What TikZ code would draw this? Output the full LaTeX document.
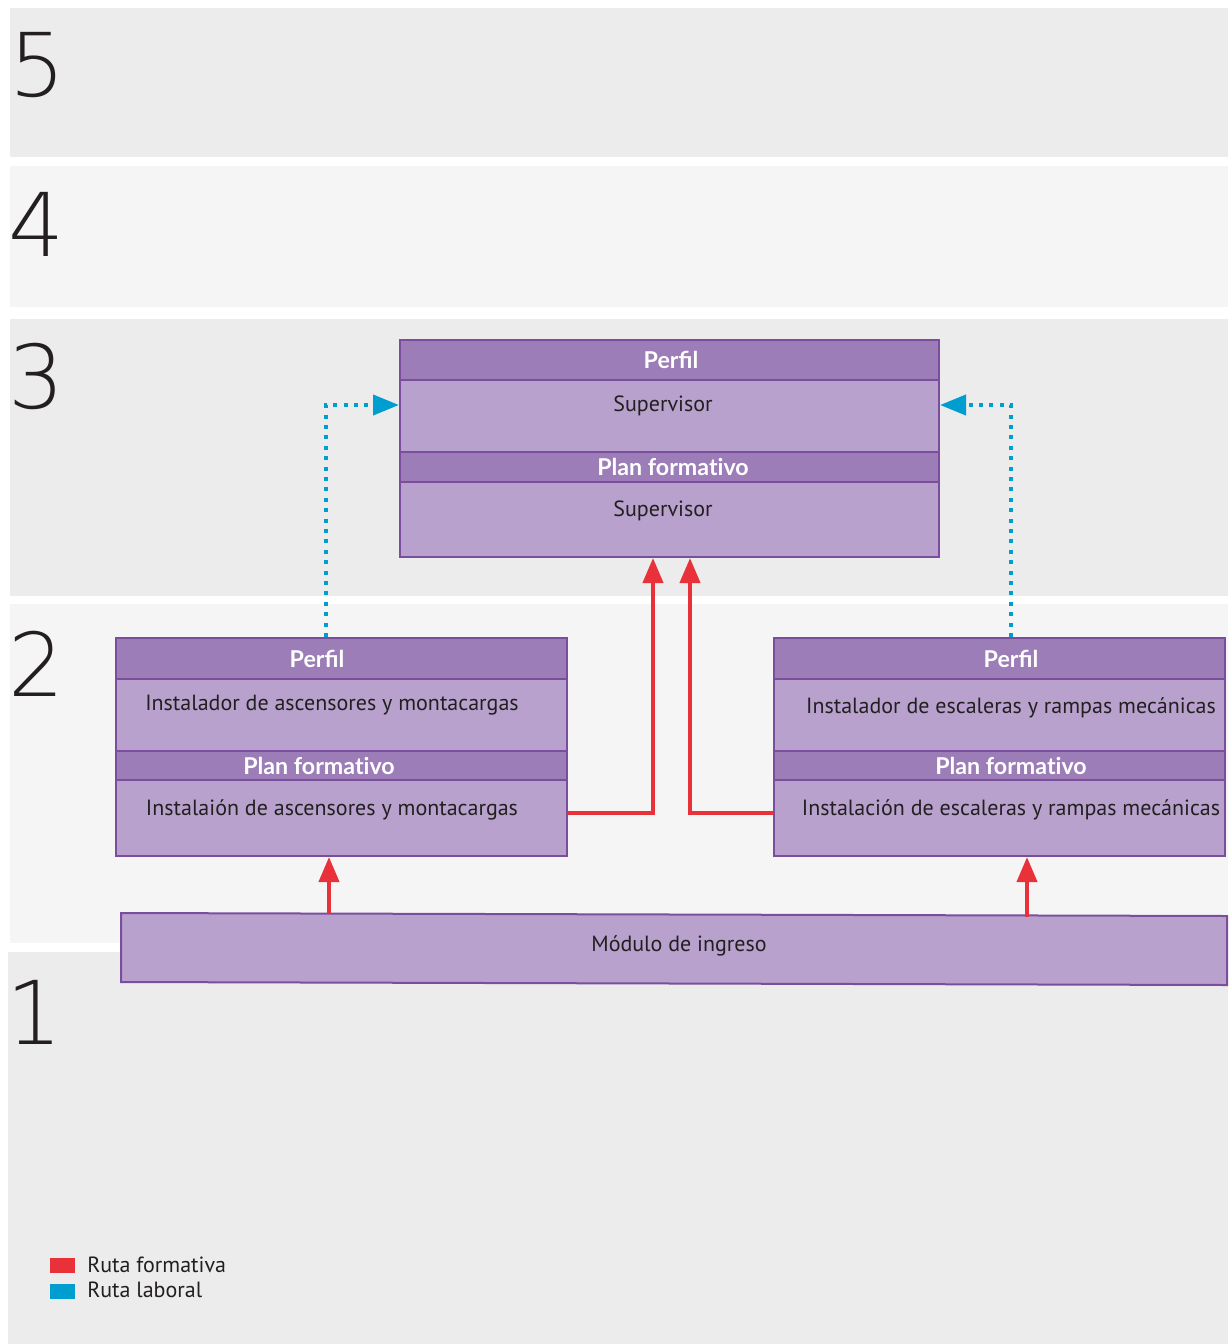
\documentclass[tikz,border=0pt]{standalone}
\usepackage{fontspec}
\usetikzlibrary{arrows.meta}
\newfontfamily\bodyfont{PT Sans}
\newfontfamily\headfont{Lato}[Ligatures=NoCommon]
\newfontfamily\numfont{DejaVu Sans ExtraLight}
\definecolor{banddark}{HTML}{ECECEC}
\definecolor{bandlight}{HTML}{F5F5F5}
\definecolor{headfill}{HTML}{9C7DB8}
\definecolor{bodyfill}{HTML}{B8A2CD}
\definecolor{boxline}{HTML}{7B4E9D}
\definecolor{routered}{HTML}{E9313A}
\definecolor{routeblue}{HTML}{009DD0}
\definecolor{ink}{HTML}{231F20}
\tikzset{
  band/.style={fill=#1, draw=none},
  levelnum/.style={font=\numfont\fontsize{44pt}{44pt}\selectfont, text=ink, inner sep=0pt},
  headbox/.style={draw=boxline, line width=1pt, fill=headfill, anchor=north west, inner sep=0pt},
  headtext/.style={text=white, inner sep=0pt, font=\headfont\bfseries\fontsize{11.6pt}{13pt}\selectfont},
  bodybox/.style={draw=boxline, line width=1pt, fill=bodyfill, anchor=north west, inner sep=0pt},
  bodytext/.style={font=\bodyfont\fontsize{11pt}{13pt}\selectfont, text=ink, inner sep=0pt},
  formativa/.style={draw=routered, line width=2pt, -{Triangle[length=12.5pt, width=10pt]}},
  laboral/.style={draw=routeblue, line width=2pt, dash pattern=on 2pt off 3.2pt,
    -{Triangle[length=13pt, width=10pt]}},
  legendkey/.style={fill=#1, draw=none, anchor=north west, inner sep=0pt,
    minimum width=12.5pt, minimum height=7.5pt}
}
\begin{document}
\begin{tikzpicture}[x=0.5pt, y=-0.5pt]
\useasboundingbox (0,0) rectangle (1228,1344);
\fill[white] (0,0) rectangle (1228,1344);

% level bands
\fill[band=banddark]  (10,8)    rectangle (1228,157);
\fill[band=bandlight] (10,166)  rectangle (1228,307);
\fill[band=banddark]  (10,319)  rectangle (1228,596);
\fill[band=bandlight] (10,604)  rectangle (1228,943);
\fill[band=banddark]  (8,952)   rectangle (1228,1344);

\node[levelnum] (n5) at (37,65)   {5};
\node[levelnum] (n4) at (36,224)  {4};
\node[levelnum] (n3) at (36,376)  {3};
\node[levelnum] (n2) at (36,664)  {2};
\node[levelnum] (n1) at (34,1012) {1};

% level 3: supervisor
\node[headbox, minimum width=269.5pt, minimum height=20pt] (tph) at (399,339) {};
\node[bodybox, minimum width=269.5pt, minimum height=36pt] (tpb) at (399,379) {};
\node[headbox, minimum width=269.5pt, minimum height=15pt] (tfh) at (399,451) {};
\node[bodybox, minimum width=269.5pt, minimum height=37.5pt] (tfb) at (399,481) {};
\node[headtext] (tpht) at (671,360) {Perﬁl};
\node[headtext] (tfht) at (673,467) {Plan formativo};
\node[bodytext] (tpt) at (663,406) {Supervisor};
\node[bodytext] (tft) at (663,511) {Supervisor};

% level 2: left column
\node[headbox, minimum width=225.5pt, minimum height=20.5pt] (lph) at (115,637) {};
\node[bodybox, minimum width=225.5pt, minimum height=36pt]   (lpb) at (115,678) {};
\node[headbox, minimum width=225.5pt, minimum height=14.5pt] (lfh) at (115,750) {};
\node[bodybox, minimum width=225.5pt, minimum height=38pt]   (lfb) at (115,779) {};
\node[headtext] (lpht) at (317,659) {Perﬁl};
\node[headtext] (lfht) at (319,766) {Plan formativo};
\node[bodytext] (lpt) at (332,705) {Instalador de ascensores y montacargas};
\node[bodytext] (lft) at (332,810) {Instalaión de ascensores y montacargas};

% level 2: right column
\node[headbox, minimum width=225.5pt, minimum height=20.5pt] (rph) at (773,637) {};
\node[bodybox, minimum width=225.5pt, minimum height=36pt]   (rpb) at (773,678) {};
\node[headbox, minimum width=225.5pt, minimum height=14.5pt] (rfh) at (773,750) {};
\node[bodybox, minimum width=225.5pt, minimum height=38pt]   (rfb) at (773,779) {};
\node[headtext] (rpht) at (1011,659) {Perﬁl};
\node[headtext] (rfht) at (1011,766) {Plan formativo};
\node[bodytext] (rpt) at (1011,708) {Instalador de escaleras y rampas mecánicas};
\node[bodytext] (rft) at (1011,810) {Instalación de escaleras y rampas mecánicas};

% entry module
\draw[draw=boxline, line width=1pt, fill=bodyfill]
  (121,913) -- (1227,916) -- (1227,985) -- (121,982) -- cycle;
\node[bodytext] (mod) at (679,946) {Módulo de ingreso};

% connector anchors
\coordinate (mL) at (329,914);
\coordinate (mR) at (1027,917);
\coordinate (rowA) at (0,813);
\coordinate (colL) at (653,0);
\coordinate (colR) at (690,0);
\coordinate (blL) at (326,0);
\coordinate (blR) at (1011,0);
\coordinate (rowB) at (0,405);

% training routes
\draw[formativa] (mL) -- (lfb.south -| mL);
\draw[formativa] (mR) -- (rfb.south -| mR);
\draw[formativa] (lfb.east |- rowA) -| (tfb.south -| colL);
\draw[formativa] (rfb.west |- rowA) -| (tfb.south -| colR);

% job routes
\draw[laboral] (lph.north -| blL) |- (tpb.west |- rowB);
\draw[laboral] (rph.north -| blR) |- (tpb.east |- rowB);

% legend
\node[legendkey=routered]  (kr) at (50,1258) {};
\node[legendkey=routeblue] (kb) at (50,1284) {};
\node[bodytext, anchor=west] (krt) at (87,1265) {Ruta formativa};
\node[bodytext, anchor=west] (kbt) at (87,1290) {Ruta laboral};
\end{tikzpicture}
\end{document}
